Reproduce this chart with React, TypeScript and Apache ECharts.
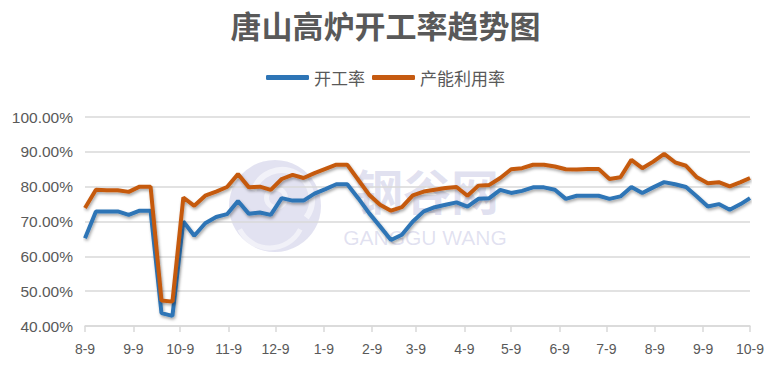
import React, { useEffect, useRef } from "react";
import * as echarts from "echarts";

const dates = [
  "2017-08-09", "2017-08-16", "2017-08-23", "2017-08-30", "2017-09-06", "2017-09-13", "2017-09-20", "2017-09-27",
  "2017-10-04", "2017-10-11", "2017-10-18", "2017-10-25", "2017-11-01", "2017-11-08", "2017-11-15", "2017-11-22",
  "2017-11-29", "2017-12-06", "2017-12-13", "2017-12-20", "2017-12-27", "2018-01-03", "2018-01-10", "2018-01-17",
  "2018-01-24", "2018-01-31", "2018-02-07", "2018-02-14", "2018-02-21", "2018-02-28", "2018-03-07", "2018-03-14",
  "2018-03-21", "2018-03-28", "2018-04-04", "2018-04-11", "2018-04-18", "2018-04-25", "2018-05-02", "2018-05-09",
  "2018-05-16", "2018-05-23", "2018-05-30", "2018-06-06", "2018-06-13", "2018-06-20", "2018-06-27", "2018-07-04",
  "2018-07-11", "2018-07-18", "2018-07-25", "2018-08-01", "2018-08-08", "2018-08-15", "2018-08-22", "2018-08-29",
  "2018-09-05", "2018-09-12", "2018-09-19", "2018-09-26", "2018-10-03", "2018-10-09",
];

// 开工率 (%)
const operatingRate = [
  65.2, 72.9, 72.9, 72.9, 71.9, 73.1, 73.1, 43.7, 42.9, 70.0, 65.9, 69.5, 71.3, 72.1, 75.9, 72.2,
  72.6, 71.9, 76.7, 76.0, 76.0, 78.0, 79.3, 80.7, 80.7, 76.7, 72.4, 68.6, 64.7, 66.2, 70.0, 72.9,
  74.1, 74.8, 75.5, 74.3, 76.5, 76.7, 79.1, 78.2, 78.8, 79.8, 79.8, 79.1, 76.5, 77.4, 77.4, 77.4,
  76.5, 77.2, 79.9, 78.2, 79.8, 81.3, 80.7, 79.9, 77.2, 74.3, 75.0, 73.4, 75.0, 76.7,
];

// 产能利用率 (%)
const utilizationRate = [
  73.9, 79.1, 79.0, 79.0, 78.5, 80.0, 80.0, 47.3, 47.0, 76.9, 74.5, 77.4, 78.6, 79.9, 83.6, 79.8,
  80.0, 79.1, 82.2, 83.4, 82.5, 83.9, 85.1, 86.3, 86.3, 82.0, 77.7, 74.8, 73.1, 74.1, 77.5, 78.6,
  79.1, 79.6, 79.9, 77.4, 80.3, 80.5, 82.5, 85.0, 85.3, 86.3, 86.3, 85.8, 85.0, 84.9, 85.1, 85.1,
  82.2, 82.7, 87.7, 85.3, 87.2, 89.4, 87.0, 86.0, 82.7, 81.0, 81.3, 80.1, 81.3, 82.5,
];

const monthTicks = [
  "2017-08-09", "2017-09-09", "2017-10-09", "2017-11-09", "2017-12-09", "2018-01-09", "2018-02-09", "2018-03-09",
  "2018-04-09", "2018-05-09", "2018-06-09", "2018-07-09", "2018-08-09", "2018-09-09", "2018-10-09",
];

const seriesNames = ["开工率", "产能利用率"];
const titleText = "唐山高炉开工率趋势图";

function ts(s: string): number {
  const [y, m, d] = s.split("-").map(Number);
  return new Date(y, m - 1, d).getTime();
}

export default function App() {
  const ref = useRef<HTMLDivElement>(null);

  useEffect(() => {
    if (!ref.current) return;
    const chart = echarts.init(ref.current, undefined, { renderer: "svg" });
    const tickValues = monthTicks.map(ts);
    const textColor = "#595959";
    const gridColor = "#d9d9d9";
    const wmFill = "rgba(150,150,205,0.28)";

    const lineShadow = {
      shadowColor: "rgba(0,0,0,0.35)",
      shadowBlur: 3,
      shadowOffsetX: 1,
      shadowOffsetY: 2,
    };

    chart.setOption({
      animation: false,
      backgroundColor: "#ffffff",
      title: {
        text: titleText,
        left: "center",
        top: 4,
        textStyle: {
          fontSize: 31,
          fontWeight: "bold",
          color: textColor,
          fontFamily: "Noto Sans CJK SC",
        },
      },
      legend: {
        data: seriesNames,
        top: 64,
        left: "center",
        icon: "roundRect",
        itemWidth: 43,
        itemHeight: 5,
        itemGap: 7,
        textStyle: {
          fontSize: 17,
          color: textColor,
          fontFamily: "Noto Sans CJK SC",
        },
      },
      grid: { left: 85, right: 21, top: 117, bottom: 47 },
      xAxis: {
        type: "value",
        min: ts(dates[0]),
        max: ts(dates[dates.length - 1]),
        axisLine: { show: true, lineStyle: { color: gridColor, width: 1.5 } },
        axisTick: {
          show: true,
          customValues: tickValues,
          length: 6,
          lineStyle: { color: gridColor, width: 1.5 },
        },
        axisLabel: {
          customValues: tickValues,
          formatter: (v: number) => {
            const d = new Date(v);
            return `${d.getMonth() + 1}-${d.getDate()}`;
          },
          color: textColor,
          fontSize: 14,
          fontFamily: "Liberation Sans",
          margin: 16,
          hideOverlap: false,
          showMinLabel: true,
          showMaxLabel: true,
        },
        splitLine: { show: false },
      },
      yAxis: {
        type: "value",
        min: 40,
        max: 100,
        interval: 10,
        axisLine: { show: false },
        axisTick: { show: false },
        axisLabel: {
          formatter: (v: number) => `${v.toFixed(2)}%`,
          color: textColor,
          fontSize: 15.5,
          fontFamily: "Liberation Sans",
          margin: 12,
        },
        splitLine: { lineStyle: { color: gridColor, width: 1.5 } },
      },
      series: [
        {
          name: seriesNames[0],
          type: "line",
          symbol: "none",
          showSymbol: false,
          data: dates.map((d, i) => [ts(d), operatingRate[i]]),
          lineStyle: { width: 4, color: "#2e75b6", ...lineShadow },
          itemStyle: { color: "#2e75b6" },
          z: 2,
        },
        {
          name: seriesNames[1],
          type: "line",
          symbol: "none",
          showSymbol: false,
          data: dates.map((d, i) => [ts(d), utilizationRate[i]]),
          lineStyle: { width: 4, color: "#c55a11", ...lineShadow },
          itemStyle: { color: "#c55a11" },
          z: 3,
        },
      ],
      graphic: [
        {
          type: "group",
          z: 100,
          silent: true,
          children: [
            {
              type: "circle",
              shape: { cx: 275, cy: 206, r: 46 },
              style: { fill: wmFill },
            },
            {
              type: "arc",
              shape: { cx: 282, cy: 200, r: 30, startAngle: -Math.PI * 0.9, endAngle: Math.PI * 0.2 },
              style: { stroke: "rgba(255,255,255,0.55)", lineWidth: 6, fill: "none" },
            },
            {
              type: "arc",
              shape: { cx: 270, cy: 214, r: 34, startAngle: Math.PI * 0.15, endAngle: Math.PI * 0.85 },
              style: { stroke: "rgba(255,255,255,0.5)", lineWidth: 5, fill: "none" },
            },
            {
              type: "ring",
              shape: { cx: 276, cy: 198, r: 12, r0: 7 },
              style: { fill: "rgba(255,255,255,0.5)" },
            },
            {
              type: "text",
              x: 427,
              y: 189,
              style: {
                text: "钢谷网",
                fontSize: 48,
                fontWeight: "bold",
                fontFamily: "Noto Sans CJK SC",
                fill: wmFill,
                align: "center",
                verticalAlign: "middle",
                lineHeight: 44,
              },
            },
            {
              type: "text",
              x: 425,
              y: 237,
              style: {
                text: "GANGGU WANG",
                fontSize: 21,
                fontFamily: "Liberation Sans",
                fill: wmFill,
                align: "center",
                verticalAlign: "middle",
                lineHeight: 18,
              },
            },
          ],
        },
      ],
    });

    return () => chart.dispose();
  }, []);

  return (
    <div
      ref={ref}
      style={{ position: "absolute", left: 0, top: 0, width: 771, height: 373 }}
    />
  );
}
